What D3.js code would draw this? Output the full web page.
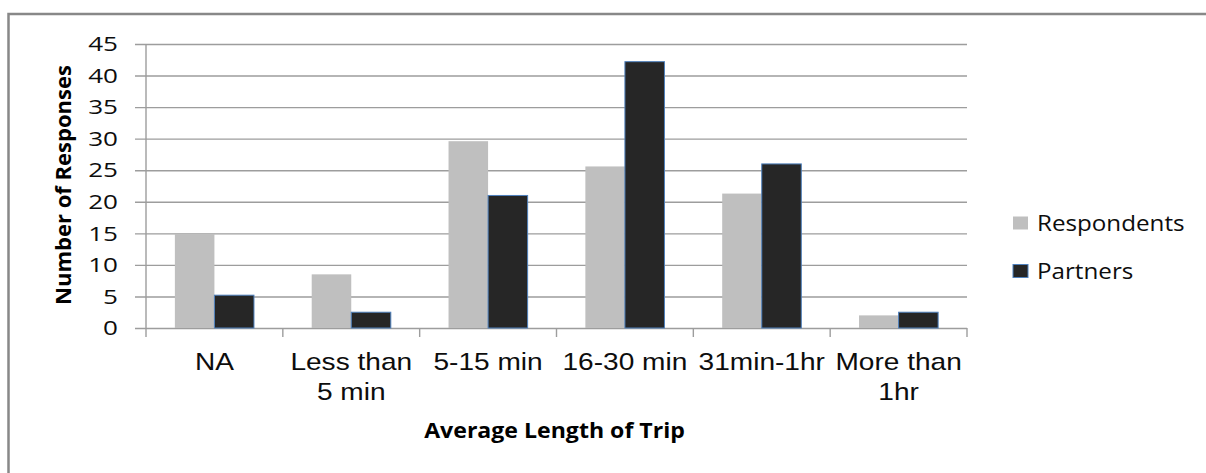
<!DOCTYPE html>
<html>
<head>
<meta charset="utf-8">
<script src="https://cdn.jsdelivr.net/npm/d3@7"></script>
<style>
  html, body { margin: 0; padding: 0; background: #ffffff; }
  svg { display: block; }
</style>
</head>
<body>
<script>
// ---- data ----
const categories = ["NA", "Less than 5 min", "5-15 min", "16-30 min", "31min-1hr", "More than 1hr"];
const categoryLabelLines = [["NA"], ["Less than", "5 min"], ["5-15 min"], ["16-30 min"], ["31min-1hr"], ["More than", "1hr"]];
const seriesNames = ["Respondents", "Partners"];
const respondents = [14.9, 8.5, 29.6, 25.6, 21.3, 2.0];
const partners = [5.2, 2.5, 21.0, 42.2, 26.0, 2.5];
const yTicks = [0, 5, 10, 15, 20, 25, 30, 35, 40, 45];
const xTitle = "Average Length of Trip";
const yTitle = "Number of Responses";

// ---- layout ----
const W = 1206, H = 473;
const plot = { left: 146, right: 967, top: 44, bottom: 328 };
const colors = { Respondents: "#bfbfbf", Partners: "#262626" };
const gridColor = "#9d9d9d";

const svg = d3.select("body").append("svg").attr("width", W).attr("height", H);
svg.append("rect").attr("width", W).attr("height", H).attr("fill", "#fff");

// outer chart border (cropped at right and bottom)
svg.append("path")
  .attr("d", `M8.5,${H + 5} L8.5,14 L${W + 5},14`)
  .attr("fill", "none").attr("stroke", "#888").attr("stroke-width", 2.5);

const x0 = d3.scaleBand().domain(categories).range([plot.left, plot.right]).paddingInner(0).paddingOuter(0);
const x1 = d3.scaleBand().domain(seriesNames).range([0, x0.bandwidth()]).paddingInner(0).paddingOuter(0.73);
const y = d3.scaleLinear().domain([0, 45]).range([plot.bottom, plot.top]);

// gridlines via axis
const yAxis = d3.axisLeft(y).tickValues(yTicks).tickSize(-(plot.right - plot.left + 11)).tickFormat("");
const gGrid = svg.append("g").attr("transform", `translate(${plot.left - 11},0)`).call(yAxis);
gGrid.select(".domain").remove();
gGrid.selectAll(".tick line").attr("stroke", gridColor).attr("stroke-width", 1.4)
  .attr("x1", 0).attr("x2", plot.right - plot.left + 11);

// y tick labels
svg.append("g").selectAll("text").data(yTicks).join("text")
  .attr("transform", d => `translate(118,${y(d)}) scale(1.27,1)`)
  .attr("text-anchor", "end").attr("dy", "0.35em")
  .attr("font-family", "'Open Sans', sans-serif").attr("font-size", 20.5)
  .attr("fill", "#0d0d0d").text(d => d);

// y axis line
svg.append("line").attr("x1", plot.left).attr("x2", plot.left)
  .attr("y1", plot.top).attr("y2", plot.bottom)
  .attr("stroke", gridColor).attr("stroke-width", 1.4);

// x axis ticks at band edges
const edges = categories.map(c => x0(c)).concat([plot.right]);
svg.append("g").selectAll("line").data(edges).join("line")
  .attr("x1", d => d).attr("x2", d => d)
  .attr("y1", plot.bottom).attr("y2", plot.bottom + 9)
  .attr("stroke", gridColor).attr("stroke-width", 1.4);

// bars
const rows = categories.map((c, i) => ({ cat: c, values: [
  { key: "Respondents", value: respondents[i] },
  { key: "Partners", value: partners[i] }
]}));
const groups = svg.append("g").selectAll("g").data(rows).join("g")
  .attr("transform", d => `translate(${x0(d.cat)},0)`);
groups.selectAll("rect").data(d => d.values).join("rect")
  .attr("x", d => x1(d.key))
  .attr("y", d => y(d.value))
  .attr("width", x1.bandwidth())
  .attr("height", d => y(0) - y(d.value))
  .attr("fill", d => colors[d.key])
  .attr("stroke", d => d.key === "Partners" ? "#4f81bd" : "none")
  .attr("stroke-width", 1);

// x tick labels
const xl = svg.append("g").selectAll("g").data(categories).join("g")
  .attr("transform", d => `translate(${x0(d) + x0.bandwidth() / 2},0)`);
xl.each(function(d, i) {
  d3.select(this).selectAll("text").data(categoryLabelLines[i]).join("text")
    .attr("transform", (t, j) => `translate(0,${370 + j * 30}) scale(1.17,1)`)
    .attr("text-anchor", "middle")
    .attr("font-family", "'Liberation Sans', Arial, sans-serif").attr("font-size", 24)
    .attr("fill", "#0d0d0d").text(t => t);
});

// axis titles
svg.append("text")
  .attr("transform", `translate(${(plot.left + plot.right) / 2 - 2},437.5) scale(1.05,1)`)
  .attr("text-anchor", "middle")
  .attr("font-family", "'Open Sans', sans-serif").attr("font-weight", "bold").attr("font-size", 22)
  .attr("fill", "#000").text(xTitle);

svg.append("text")
  .attr("transform", `translate(71,185) rotate(-90)`)
  .attr("text-anchor", "middle")
  .attr("font-family", "'Open Sans', sans-serif").attr("font-weight", "bold").attr("font-size", 22)
  .attr("fill", "#000").text(yTitle);

// legend
const legendY = [223, 271];
const lg = svg.append("g").selectAll("g").data(seriesNames).join("g")
  .attr("transform", (d, i) => `translate(1013,${legendY[i]})`);
lg.append("rect").attr("x", 0).attr("y", -6.5).attr("width", 15).attr("height", 13)
  .attr("fill", d => colors[d])
  .attr("stroke", d => d === "Partners" ? "#4f81bd" : "none").attr("stroke-width", 1);
lg.append("text")
  .attr("transform", "translate(24,7.7) scale(1.1,1)")
  .attr("font-family", "'Open Sans', sans-serif").attr("font-size", 22)
  .attr("fill", "#0d0d0d").text(d => d);
</script>
</body>
</html>
